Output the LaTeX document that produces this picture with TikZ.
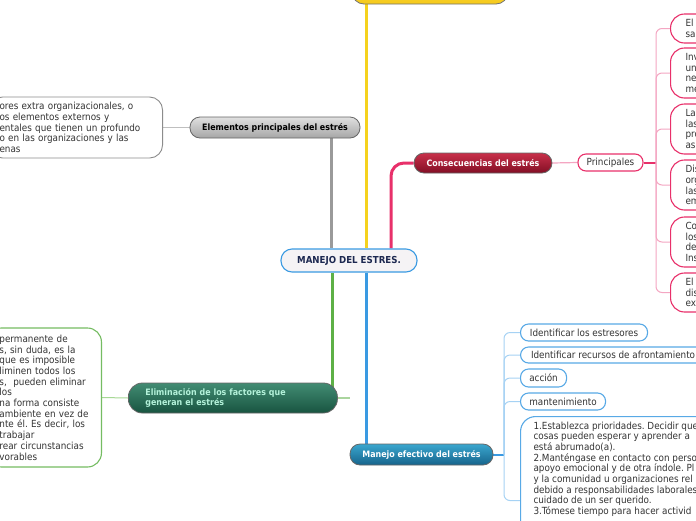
\documentclass[tikz,border=0pt]{standalone}
\usepackage{fontspec}
\setmainfont{DejaVu Sans Condensed}
\usetikzlibrary{calc}
\pgfdeclarelayer{bg}
\pgfsetlayers{bg,main}
\frenchspacing
\definecolor{txt}{HTML}{333333}
\definecolor{navy}{HTML}{1C2850}
\definecolor{cgray}{HTML}{9A9A9A}
\definecolor{cyellow}{HTML}{F5D21E}
\definecolor{cpink}{HTML}{E8306A}
\definecolor{lpink}{HTML}{F4A6C2}
\definecolor{cgreen}{HTML}{5DB046}
\definecolor{lgreen}{HTML}{A6D894}
\definecolor{cblue}{HTML}{3A9AE2}
\definecolor{lblue}{HTML}{A6D2F4}
\definecolor{mint}{HTML}{B4F2DA}
\begin{document}
\begin{tikzpicture}[x=1pt,y=-1pt,
  bodyfont/.style={font=\fontsize{9.8}{10.7}\selectfont\frenchspacing, text=txt},
  titlefont/.style={font=\fontsize{8.8}{9.6}\selectfont\bfseries},
  mainlink/.style={line width=3pt},
  thinlink/.style={line width=1pt},
  titlebox/.style={titlefont, draw=black!60, line width=0.8pt, inner sep=0pt, rounded corners=10pt},
  pinkbox/.style={bodyfont, draw=cpink, line width=1.1pt, fill=white, rounded corners=14pt, align=left, text width=70pt, inner xsep=15pt, inner ysep=0pt, anchor=west},
  bluebox/.style={bodyfont, draw=cblue!85, line width=1.1pt, fill=white, rounded corners=8pt, inner sep=0pt, anchor=west, minimum height=17pt},
]
\useasboundingbox (0,0) rectangle (696,520);
\clip (0,0) rectangle (696,520);
\begin{pgfonlayer}{bg}
\fill[white] (0,0) rectangle (696,520);
\end{pgfonlayer}

% coordinates for link positions
\coordinate (gx) at (331,0);
\coordinate (yx) at (366,0);
\coordinate (px) at (391,0);
\coordinate (grx) at (332,0);
\coordinate (bx) at (366,0);
\coordinate (pbr) at (656,162.5);
\coordinate (bbr) at (504,454.5);

% ---------- nodes ----------
\node[draw=black!55, line width=0.8pt, top color=cyellow!80!white, bottom color=cyellow!90!orange, rounded corners=12pt, minimum width=156pt, minimum height=30pt, inner sep=0pt] (top) at (430,-11) {};

\node[font=\fontsize{9.6}{10}\selectfont\bfseries, text=navy, draw=cblue, line width=1.1pt, fill={rgb,255:red,245;green,243;blue,245}, rounded corners=11pt, minimum width=136pt, minimum height=23pt, inner sep=0pt] (central) at (349,260.5) {MANEJO DEL ESTRES.};

\node[titlebox, top color=black!12, bottom color=black!35, text=black, minimum width=170pt, minimum height=21pt] (elem) at (275,127.5) {Elementos principales del estrés};

\node[bodyfont, draw=black!45, line width=0.9pt, fill=white, rounded corners=13pt, anchor=east, text width=153pt, inner xsep=10pt, inner ysep=0pt, minimum height=61pt, align=left] (elemtext) at (163,127.5) {\raisebox{-2pt}{\parbox{153pt}{\raggedright\mbox{ores extra organizacionales, o}\\\mbox{os elementos externos y}\\\mbox{entales que tienen un profundo}\\\mbox{o en las organizaciones y las}\\enas}}};

\node[titlebox, top color={rgb,255:red,200;green,48;blue,74}, bottom color={rgb,255:red,130;green,14;blue,36}, text=white, minimum width=138pt, minimum height=20pt] (cons) at (483,163) {Consecuencias del estrés};

\node[bodyfont, draw=cpink, line width=1.1pt, fill=white, rounded corners=8pt, minimum width=65pt, minimum height=17pt, inner sep=0pt] (princ) at (610.5,162.5) {Principales};

\node[pinkbox, minimum height=29pt] (r1) at (670,28.5) {El\\sa};
\node[pinkbox, minimum height=50pt] (r2) at (670,73) {Inv\\una\\ner\\me};
\node[pinkbox, minimum height=50pt] (r3) at (670,129) {La\\las\\pro\\asi};
\node[pinkbox, minimum height=50pt] (r4) at (670,185) {Dis\\org\\las\\em};
\node[pinkbox, minimum height=50pt] (r5) at (670,242) {Co\\los\\del\\Ins};
\node[pinkbox, minimum height=39pt] (r6) at (670,292.5) {El\\dis\\ex};

\node[titlebox, top color={rgb,255:red,66;green,140;blue,115}, bottom color={rgb,255:red,24;green,84;blue,64}, text=mint, anchor=west, text width=175pt, inner xsep=17pt, minimum height=30pt, rounded corners=14pt, align=left] (elim) at (128,398) {Eliminación de los factores que\\generan el estrés};

\node[bodyfont, draw=cgreen!85, line width=1.1pt, fill=white, rounded corners=14pt, anchor=east, text width=90pt, inner xsep=12pt, inner ysep=0pt, minimum height=139pt, align=left] (elimtext) at (102,397.5) {\mbox{permanente de}\\\mbox{s, sin duda, es la}\\\mbox{que es imposible}\\\mbox{liminen todos los}\\\mbox{s,\ \ pueden eliminar}\\\mbox{los}\\\mbox{na forma consiste}\\\mbox{ambiente en vez de}\\\mbox{nte él. Es decir, los}\\\mbox{trabajar}\\\mbox{rear circunstancias}\\\mbox{vorables}};

\node[titlebox, top color={rgb,255:red,58;green,166;blue,206}, bottom color={rgb,255:red,22;green,100;blue,140}, text=white, minimum width=143pt, minimum height=21pt] (manejo) at (421.5,454.5) {Manejo efectivo del estrés};

\node[bluebox, minimum width=127pt] (b1) at (520,332.5) {Identificar los estresores};
\node[bluebox, minimum width=185pt, minimum height=16pt] (b2) at (520,355) {Identificar recursos de afrontamiento};
\node[bluebox, minimum width=46pt, minimum height=18pt] (b3) at (520,378) {acción};
\node[bluebox, minimum width=85pt] (b4) at (520,401.5) {mantenimiento};

\node[bodyfont, draw=cblue!85, line width=1.1pt, fill=white, rounded corners=15pt, anchor=north west, inner xsep=13pt, inner ysep=5pt] (big) at (520,416) {\parbox[t][158pt][t]{250pt}{\raggedright 1.Establezca prioridades. Decidir que\\cosas pueden esperar y aprender a\\está abrumado(a).\\2.Manténgase en contacto con perso\\apoyo emocional y de otra índole. Pl\\y la comunidad u organizaciones rel\\debido a responsabilidades laborales\\cuidado de un ser querido.\\3.Tómese tiempo para hacer activid}};

% ---------- links ----------
\begin{pgfonlayer}{bg}
\draw[mainlink, cgray] (elem.south -| gx) -- (central.north -| gx);
\draw[mainlink, cyellow] (top.south -| yx) -- (central.north -| yx);
\draw[mainlink, cpink, rounded corners=13pt] (central.north -| px) |- (cons.west);
\draw[mainlink, cgreen] (central.south -| grx) -- ([yshift=-6pt]elim.east -| grx);
\draw[line width=1.2pt, cgreen!80, rounded corners=6pt] ([yshift=-10pt]elim.east -| grx) |- ([xshift=12pt]elim.east);
\draw[mainlink, cblue] (central.south -| bx) -- (manejo.north -| bx);

\draw[thinlink, black!25] (elemtext.east) -- (elem.west);
\draw[thinlink, lgreen] (elimtext.east) -- (elim.west);
\draw[line width=1.2pt, lpink] (cons.east) -- (princ.west);
\draw[line width=2pt, cpink] (princ.east) -- (pbr);
\foreach \r in {r1,r2,r3,r4,r5,r6}
  \draw[thinlink, lpink, rounded corners=6pt] (pbr) |- (\r.west);
\draw[line width=2pt, cblue] (manejo.east) -- (bbr);
\foreach \b in {b1,b2,b3,b4,big}
  \draw[thinlink, lblue, rounded corners=6pt] (bbr) |- (\b.west);
\end{pgfonlayer}
\end{tikzpicture}
\end{document}
